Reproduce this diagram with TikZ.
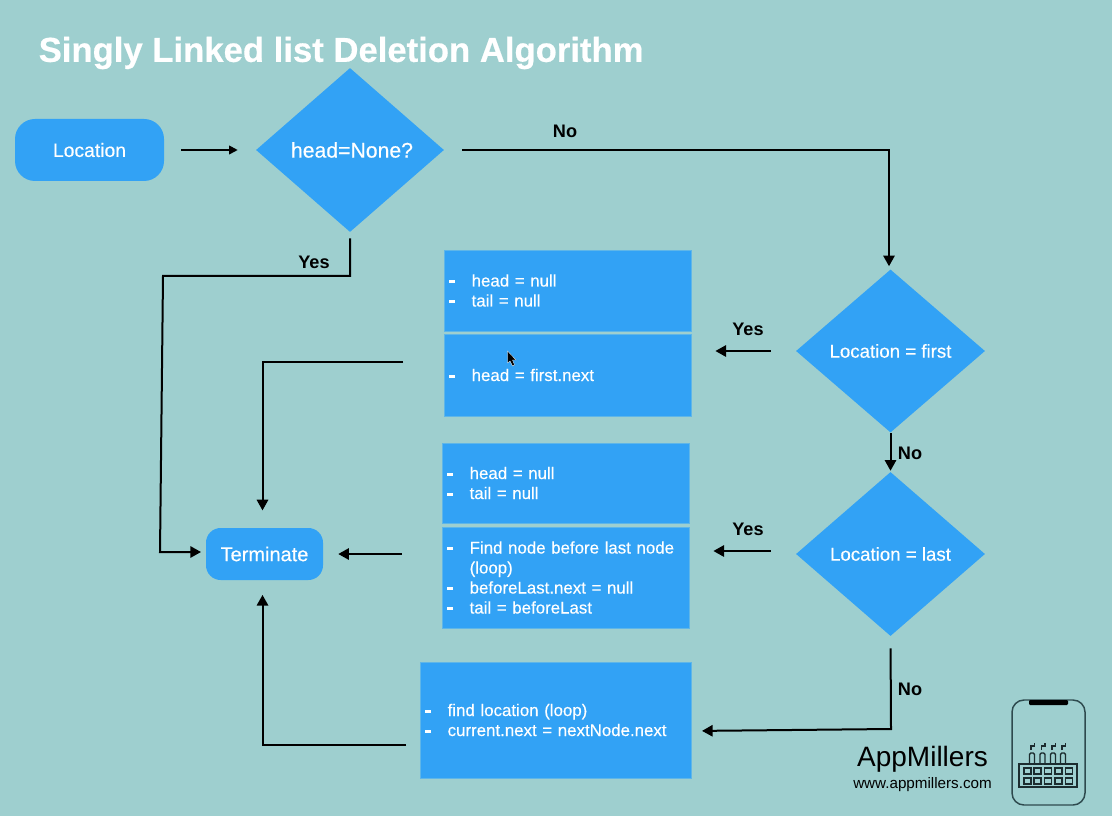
\documentclass[tikz,border=0pt]{standalone}
\usepackage{fontspec}
\setmainfont{Liberation Sans}
\newfontfamily\medf[FakeBold=0.35]{Liberation Sans}
\newfontfamily\titf[FakeBold=0.5]{Liberation Sans Bold}
\usetikzlibrary{shapes.geometric,arrows.meta,calc}
\definecolor{bgc}{HTML}{9ECFCF}
\definecolor{blu}{HTML}{32A2F5}
\definecolor{blue2}{HTML}{5FB6E8}
\definecolor{icon}{HTML}{2E4A4E}
\newcommand{\pxl}[1]{\medf\fontsize{#1}{15}\selectfont}
\newcommand{\dashlines}[1]{\raisebox{-1.5pt}[\height][\depth]{\begin{tabular}{@{}p{17pt}@{}l@{}}#1\end{tabular}}}
\newcommand{\dd}{\rule[2.6pt]{4.6pt}{2pt}}
\tikzset{
  x=0.75pt,y=-0.75pt,
  dec/.style={shape=diamond,fill=blu,inner sep=0pt,text=white,align=center},
  rbox/.style={rectangle,rounded corners=#1,fill=blu,text=white,inner sep=0pt},
  tbox/.style={rectangle,fill=blu,draw=blue2,line width=.6pt,text=white,inner sep=0pt},
  arr/.style={draw=black,line width=1.5pt,-{Triangle[length=8pt,width=8.5pt]}},
  arrs/.style={draw=black,line width=1.3pt,-{Triangle[length=6.5pt,width=6.5pt]}},
  lab/.style={font=\bfseries\fontsize{13.6}{16}\selectfont,text=black},
}
\begin{document}
\begin{tikzpicture}
\fill[bgc] (0,0) rectangle (1112,816);
\useasboundingbox (0,0) rectangle (1112,816);
\node[anchor=west,text=white,font=\titf\fontsize{26}{30}\selectfont] (title) at (34,53) {Singly Linked list Deletion Algorithm};

\node[rbox=15pt,minimum width=111.75pt,minimum height=46.5pt,font=\pxl{14.5}] (loc) at (89.5,150) {Location};
\node[dec,minimum width=141pt,minimum height=123pt,font=\pxl{15.9}] (d1) at (350,150) {\kern3pt head=None?};
\node[dec,minimum width=141.75pt,minimum height=122.25pt,font=\pxl{14}] (d2) at (890.5,351) {Location = first};
\node[dec,minimum width=141.75pt,minimum height=123pt,font=\pxl{14}] (d3) at (890.5,554) {Location = last};
\node[rbox=11pt,minimum width=87.75pt,minimum height=39pt,font=\pxl{15}] (term) at (264.5,554) {Terminate};

\tikzset{tb/.style n args={2}{tbox,minimum width=#1*0.75pt,minimum height=#2*0.75pt,text width=#1*0.75pt-7.5pt,align=left,font=\pxl{12.65}}}
\node[tb={247}{81}] (a) at (567.5,290.5) {\dashlines{\dd & head = null\\ \dd & tail = null}};
\node[tb={247}{82}] (b) at (567.5,375) {\dashlines{\dd & head = first.next}};
\node[tb={247}{80}] (c) at (565.5,483) {\dashlines{\dd & head = null\\ \dd & tail = null}};
\node[tb={247}{101}] (d) at (565.5,577.5) {\dashlines{\dd & Find node before last node\\ & (loop)\\ \dd & beforeLast.next = null\\ \dd & tail = beforeLast}};
\node[tb={271}{116}] (e) at (555.5,720) {\dashlines{\dd & find location (loop)\\ \dd & current.next = nextNode.next}};

\coordinate (d1turn) at (350,276);
\coordinate (leftT) at (163,276);
\coordinate (leftB) at (160,552);
\coordinate (termW) at (206,552);
\coordinate (bOut) at (403,362);
\coordinate (eOut) at (406,745);
\coordinate (d3corner) at (891,729);
\coordinate (eIn) at (691,731);
\coordinate (tn) at ($(term.north)+(-2,0)$);
\coordinate (ts) at ($(term.south)+(-2,0)$);
\coordinate (d2n) at ($(d2.north)+(-1.5,0)$);

\draw[arrs,shorten <=12.75pt,shorten >=13.5pt] (loc.east) -- (d1.west);
\draw[arr,shorten <=13.5pt,shorten >=2.25pt] (d1.east) -- (d1.east -| d2n) -- (d2n);
\draw[arr,shorten <=4.5pt,shorten >=3.75pt] (d1.south) -- (d1turn) -- (leftT) -- (leftB) -- (termW);
\draw[arr,shorten <=18.75pt,shorten >=18pt] (d2.west) -- (d2.west -| b.east);
\draw[arr,shorten >=13pt] (bOut) -- (bOut -| tn) -- (tn);
\draw[arr,shorten >=0.75pt] (d2.south) -- (d3.north);
\draw[arr,shorten <=18.75pt,shorten >=18pt] ($(d3.west)+(0,-3)$) -- ($(d3.west -| d.east)+(0,-3)$);
\draw[arr,shorten >=11.25pt] ($(d.west)+(-40,-23.5)$) -- (term.east);
\draw[arr,shorten <=9pt,shorten >=8.25pt] (d3.south) -- (d3corner) -- (eIn);
\draw[arr,shorten >=11pt] (eOut) -- (eOut -| ts) -- (ts);

\node[lab] (n1) at (565,131) {No};
\node[lab] (y1) at (314,262) {Yes};
\node[lab] (y2) at (748,329) {Yes};
\node[lab] (n2) at (910,453) {No};
\node[lab] (y3) at (748,529) {Yes};
\node[lab] (n3) at (910,689) {No};

% cursor
\fill[black,draw=white,line width=.2pt] (507.5,351) -- (507.5,363) -- (510,361) -- (512.5,366) -- (514.5,365) -- (512.5,360) -- (516,360) -- cycle;

\node[text=black,font=\fontsize{21}{24}\selectfont] (brand) at (922.5,759) {AppMillers};
\node[text=black,font=\fontsize{11.4}{14}\selectfont] (url) at (922.5,785) {www.appmillers.com};

% icon
\draw[icon,line width=1.1pt,rounded corners=9pt] (1012,700) rectangle (1085,805);
\fill[black,rounded corners=.8pt] (1029,700) rectangle (1068,705);
\draw[icon!60!black,line width=1.1pt] (1019,764) rectangle (1077,787);
\foreach \x in {1032,1042.5,1053,1063}{
  \draw[icon!60!black,line width=1pt,rounded corners=1pt] (\x-2.5,764) -- (\x-2.5,753) -- (\x+2.5,753) -- (\x+2.5,764);
  \draw[icon!60!black,line width=1.2pt] (\x-1,750) -- (\x-1,746) -- (\x+2.5,746) -- (\x+2.5,742.5);
}
\foreach \x in {1024,1034,1044.5,1055,1065.5}{
  \foreach \y in {768,778}{
    \draw[icon!60!black,line width=.9pt] (\x,\y) rectangle (\x+7,\y+6);
  }
}
\end{tikzpicture}
\end{document}
